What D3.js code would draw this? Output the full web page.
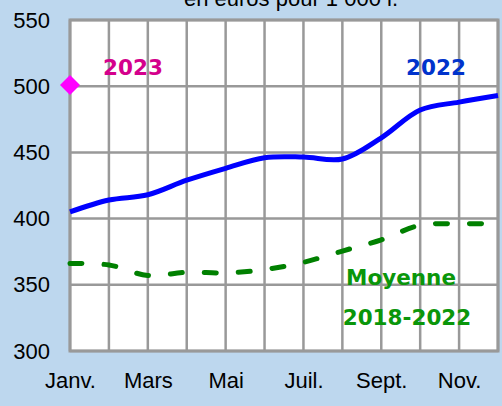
<!DOCTYPE html>
<html>
<head>
<meta charset="utf-8">
<script src="https://cdn.jsdelivr.net/npm/d3@7"></script>
<style>
  html, body { margin: 0; padding: 0; background: #bdd7ee; }
  svg { display: block; }
</style>
</head>
<body>
<div id="chart"></div>
<script>
// months along x, only every other one is labelled
const months = ["Janv.", "Févr.", "Mars", "Avr.", "Mai", "Juin", "Juil.", "Août", "Sept.", "Oct.", "Nov.", "Déc."];
const monthLabels = ["Janv.", "Mars", "Mai", "Juil.", "Sept.", "Nov."];
const yTicks = [300, 350, 400, 450, 500, 550];

// prix en euros pour 1 000 l
const values2022 = [405, 414, 418, 429, 438, 446, 446.5, 445, 461, 482, 488, 493];
const valuesMoyenne = [366, 365, 357, 359.5, 359, 361.5, 367, 375.5, 384, 395, 396, 396];
const values2023 = [501];

const width = 502, height = 406;
const margin = { top: 20, right: 4, bottom: 55, left: 70 };

const svg = d3.select("#chart").append("svg")
    .attr("width", width)
    .attr("height", height);

svg.append("rect")
    .attr("width", width)
    .attr("height", height)
    .attr("fill", "#bdd7ee");

const x = d3.scalePoint()
    .domain(months)
    .range([margin.left, width - margin.right]);

const y = d3.scaleLinear()
    .domain([300, 550])
    .range([height - margin.bottom, margin.top]);

const axisFont = "'Liberation Sans', Arial, sans-serif";

// title, mostly cut off at the top
svg.append("text")
    .attr("x", 291)
    .attr("y", 6)
    .attr("text-anchor", "middle")
    .style("font-family", axisFont)
    .style("font-size", "22px")
    .attr("fill", "#000")
    .text("en euros pour 1 000 l.");

// plot area
svg.append("rect")
    .attr("x", x.range()[0])
    .attr("y", y(550))
    .attr("width", x.range()[1] - x.range()[0])
    .attr("height", y(300) - y(550))
    .attr("fill", "#fff");

const grid = svg.append("g");
grid.selectAll(".vline")
    .data(months)
    .join("line")
    .attr("x1", d => x(d)).attr("x2", d => x(d))
    .attr("y1", y(550)).attr("y2", y(300))
    .attr("stroke", "#999")
    .attr("stroke-width", 2.5);

grid.selectAll(".hline")
    .data(yTicks)
    .join("line")
    .attr("x1", x.range()[0]).attr("x2", x.range()[1])
    .attr("y1", d => y(d)).attr("y2", d => y(d))
    .attr("stroke", "#999")
    .attr("stroke-width", 2.5);

grid.append("rect")
    .attr("x", x.range()[0])
    .attr("y", y(550))
    .attr("width", x.range()[1] - x.range()[0])
    .attr("height", y(300) - y(550))
    .attr("fill", "none")
    .attr("stroke", "#999")
    .attr("stroke-width", 3);

// axes (labels only)
const yAxis = svg.append("g")
    .attr("transform", `translate(${margin.left - 20},0)`)
    .call(d3.axisLeft(y).tickValues(yTicks).tickSize(0).tickPadding(0));
yAxis.select(".domain").remove();
yAxis.selectAll("text")
    .style("font-family", axisFont)
    .style("font-size", "22px")
    .attr("fill", "#000");

const xAxis = svg.append("g")
    .attr("transform", `translate(0,${y(300)})`)
    .call(d3.axisBottom(x).tickValues(monthLabels).tickSize(0).tickPadding(21));
xAxis.select(".domain").remove();
xAxis.selectAll("text")
    .style("font-family", axisFont)
    .style("font-size", "22px")
    .attr("fill", "#000");

const line = d3.line()
    .x((d, i) => x(months[i]))
    .y(d => y(d))
    .curve(d3.curveCatmullRom.alpha(0.5));

svg.append("path")
    .datum(valuesMoyenne)
    .attr("d", line)
    .attr("fill", "none")
    .attr("stroke", "#008000")
    .attr("stroke-width", 5)
    .attr("stroke-linecap", "round")
    .attr("stroke-dasharray", "12 22");

svg.append("path")
    .datum(values2022)
    .attr("d", line)
    .attr("fill", "none")
    .attr("stroke", "#0000ff")
    .attr("stroke-width", 5);

svg.selectAll(".pt2023")
    .data(values2023)
    .join("path")
    .attr("transform", (d, i) => `translate(${x(months[i])},${y(d)}) rotate(45)`)
    .attr("d", d3.symbol().type(d3.symbolSquare).size(200))
    .attr("fill", "#ff00ff");

// series labels
const labelFont = "'DejaVu Sans', sans-serif";
const labels = [
  { text: "2023", x: 133, y: 75, color: "#d4008c" },
  { text: "2022", x: 436, y: 75, color: "#0033cc" },
  { text: "Moyenne", x: 401, y: 285, color: "#0a960a" },
  { text: "2018-2022", x: 407, y: 325, color: "#0a960a" }
];
svg.selectAll(".lbl")
    .data(labels)
    .join("text")
    .attr("x", d => d.x)
    .attr("y", d => d.y)
    .attr("text-anchor", "middle")
    .style("font-family", labelFont)
    .style("font-weight", "bold")
    .style("font-size", "21.5px")
    .attr("fill", d => d.color)
    .text(d => d.text);
</script>
</body>
</html>
